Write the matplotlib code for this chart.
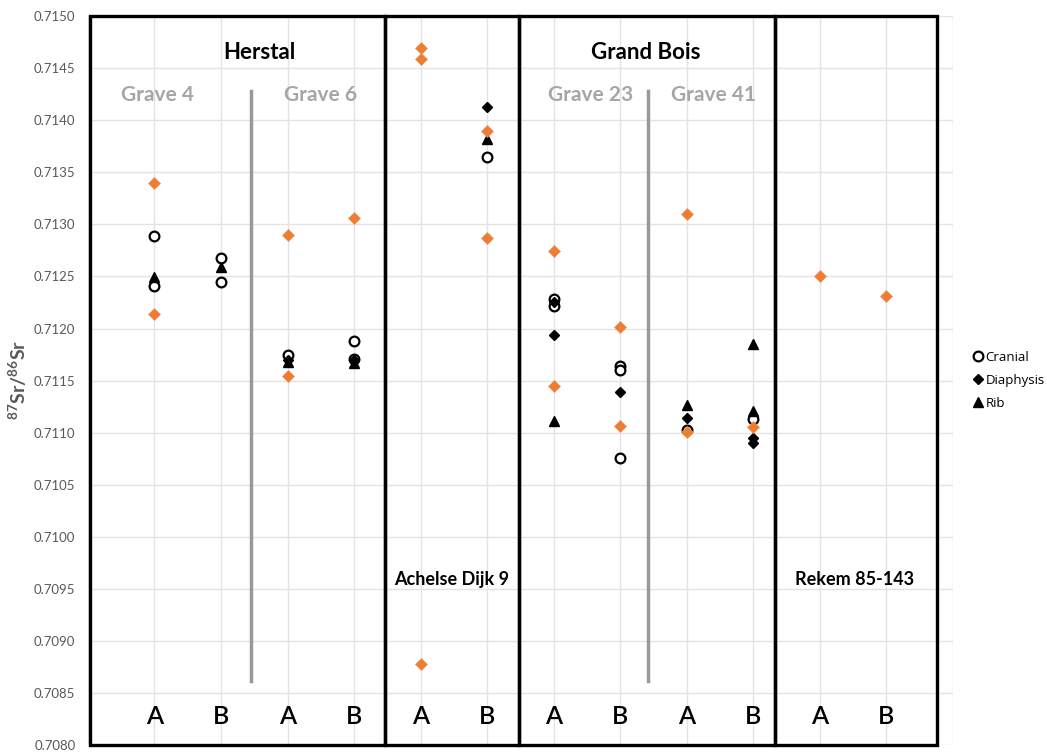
import matplotlib
matplotlib.use('Agg')
import matplotlib.pyplot as plt
from matplotlib.patches import Rectangle

# Categories (one per x position, 1..12)
categories = ['A', 'B', 'A', 'B', 'A', 'B', 'A', 'B', 'A', 'B', 'A', 'B']

# 87Sr/86Sr values, one list per category
cranial = [[0.71289, 0.71241], [0.71268, 0.71245], [0.71175], [0.71188, 0.71171], [],
           [0.71365], [0.71222, 0.71228], [0.71164, 0.71160, 0.71076], [0.71103],
           [0.71113], [], []]
diaphysis = [[], [], [0.71170], [0.71170], [], [0.71413], [0.71194, 0.71225], [0.71139],
             [0.71114], [0.71095, 0.71090], [], []]
rib = [[0.71249], [0.71259], [0.71168], [0.71167], [], [0.71382], [0.71111], [],
       [0.71127], [0.71185, 0.71121], [], []]
other = [[0.71340, 0.71214], [], [0.71290, 0.71154], [0.71306], [0.71469, 0.71459, 0.70878],
         [0.71390, 0.71287], [0.71274, 0.71145], [0.71201, 0.71106], [0.71310, 0.71101],
         [0.71105], [0.71250], [0.71231]]

# site boxes (left, right) and grave dividers
boxes = [(0.03, 4.47), (4.47, 6.48), (6.48, 10.33), (10.33, 12.77)]
dividers = [2.45, 8.42]
sites = [('Herstal', 2.57, 0.71465), ('Grand Bois', 8.39, 0.71465),
         ('Achelse Dijk 9', 5.47, 0.70959), ('Rekem 85-143', 11.53, 0.70959)]
graves = [('Grave 4', 1.04), ('Grave 6', 3.49), ('Grave 23', 7.56), ('Grave 41', 9.41)]

plt.rcParams['font.family'] = ['Lato', 'DejaVu Sans']
plt.rcParams['mathtext.fontset'] = 'custom'
plt.rcParams['mathtext.rm'] = 'Lato'
plt.rcParams['mathtext.bf'] = 'Lato:bold'

fig = plt.figure(figsize=(10.47, 7.53), dpi=100)
ax = fig.add_axes([0.084, 0.0106, 0.826, 0.968])


def flat(groups):
    xs, ys = [], []
    for i, g in enumerate(groups):
        for v in g:
            xs.append(i + 1)
            ys.append(v)
    return xs, ys


x, y = flat(cranial)
ax.plot(x, y, 'o', ls='none', ms=7, mfc='white', mec='black', mew=1.6, label='Cranial', zorder=3)
x, y = flat(diaphysis)
ax.plot(x, y, 'D', ls='none', ms=5.5, color='black', label='Diaphysis', zorder=3)
x, y = flat(rib)
ax.plot(x, y, '^', ls='none', ms=7, color='black', label='Rib', zorder=3)
x, y = flat(other)
ax.plot(x, y, 'D', ls='none', ms=6, color='#ED7D31', mec='#F09060', mew=0.5,
        label='_nolegend_', zorder=4)

ax.set_xlim(0, 13)
ax.set_ylim(0.7080, 0.7150)
ax.set_yticks([0.7080 + 0.0005 * i for i in range(15)])
ax.set_yticklabels([f'{0.7080 + 0.0005 * i:.4f}' for i in range(15)])
ax.set_xticks(range(0, 14))
ax.set_xticklabels([])
ax.tick_params(length=0, labelsize=9.5, labelcolor='#595959', pad=9)
ax.grid(True, color='#E3E3E3', lw=1)
ax.set_axisbelow(True)
for s in ax.spines.values():
    s.set_visible(False)

fig.text(0.017, 0.495, r'$\mathbf{^{87}Sr/^{86}Sr}$', rotation=90, ha='center', va='center',
         fontsize=14, color='#595959')

for x0, x1 in boxes:
    ax.add_patch(Rectangle((x0, 0.7080), x1 - x0, 0.0070, fill=False, ec='black',
                           lw=2.4, clip_on=False, zorder=5))
for d in dividers:
    ax.plot([d, d], [0.70861, 0.71428], color='#999999', lw=2.5, zorder=2)

for name, xs, ys in sites:
    size = 16 if ys > 0.714 else 13
    ax.text(xs, ys, name, ha='center', va='center', fontsize=size, fontweight='bold')
for name, xs in graves:
    ax.text(xs, 0.71424, name, ha='center', va='center', fontsize=15, fontweight='bold',
            color='#A6A6A6')
for i, c in enumerate(categories):
    ax.text(i + 1, 0.70827, c, ha='center', va='center', fontsize=18, fontweight='semibold')

ax.legend(loc='center left', bbox_to_anchor=(0.928, 0.495), bbox_transform=fig.transFigure,
          frameon=False, handletextpad=0.05, handlelength=1.0, borderaxespad=0,
          borderpad=0, labelspacing=0.75, prop={'family': 'Open Sans', 'size': 9.5})

fig.savefig('out.png', dpi=100)
